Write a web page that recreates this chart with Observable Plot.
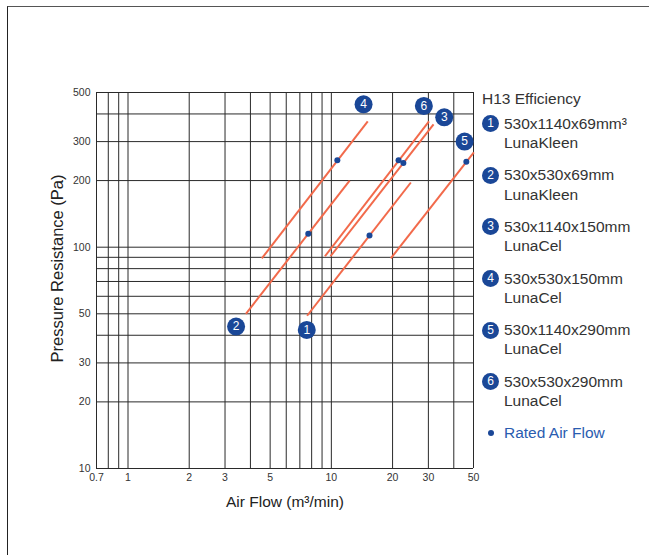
<!DOCTYPE html>
<html>
<head>
<meta charset="utf-8">
<script src="https://cdn.jsdelivr.net/npm/d3@7"></script>
<script src="https://cdn.jsdelivr.net/npm/@observablehq/plot@0.6"></script>
<style>
  body { margin: 0; background: #fff; font-family: "Liberation Sans", Arial, sans-serif; }
  #wrap { position: relative; width: 649px; height: 555px; overflow: hidden; }
  #frame { position: absolute; left: 7px; top: 6px; width: 700px; height: 600px;
           border-left: 1.5px solid #222; border-top: 1.5px solid #555; }
  #chart { position: absolute; left: 0; top: 0; }
  #legend { position: absolute; left: 0; top: 0; width: 649px; height: 555px; pointer-events: none; }
  .lt { position: absolute; white-space: nowrap; font-size: 15.5px; line-height: 20px; height: 20px; color: #333; }
  .badge { position: absolute; width: 17px; height: 17px; border-radius: 50%; background: #1a4797;
           color: #fff; font-size: 12px; line-height: 17px; text-align: center; }
  .rdot { position: absolute; width: 6px; height: 6px; border-radius: 50%; background: #1a4797; }
</style>
</head>
<body>
<div id="wrap">
  <div id="frame"></div>
  <div id="chart"></div>
  <div id="legend"></div>
</div>
<script>
// ---- data ----
const seriesIds = ["1", "2", "3", "4", "5", "6"];
const startFlow     = [7.6, 3.8, 9.9, 4.55, 19.6, 9.3];
const startPressure = [49, 50, 91, 89, 89, 91];
const endFlow       = [24.6, 12.3, 31.8, 15.1, 50.2, 30.2];
const endPressure   = [196, 200, 359, 370, 268, 370];
const ratedFlow     = [15.4, 7.7, 22.6, 10.7, 46.1, 21.4];
const ratedPressure = [113, 115, 240, 247, 243, 247];
const labelFlow     = [7.57, 3.40, 35.9, 14.4, 45.2, 28.5];
const labelPressure = [42.3, 43.8, 386, 442, 300, 435];

const xGridValues = [0.7, 0.8, 0.9, 1, 2, 3, 4, 5, 6, 7, 8, 9, 10, 20, 30, 40, 50];
const yGridValues = [10, 20, 30, 40, 50, 60, 70, 80, 90, 100, 200, 300, 400, 500];
const xTickLabels = [0.7, 1, 2, 3, 5, 10, 20, 30, 50];
const yTickLabels = [10, 20, 30, 50, 100, 200, 300, 500];

const legendTitle = "H13 Efficiency";
const legendSizes = ["530x1140x69mm³", "530x530x69mm", "530x1140x150mm", "530x530x150mm", "530x1140x290mm", "530x530x290mm"];
const legendNames = ["LunaKleen", "LunaKleen", "LunaCel", "LunaCel", "LunaCel", "LunaCel"];
const ratedLabel = "Rated Air Flow";
const xTitle = "Air Flow (m³/min)";
const yTitle = "Pressure Resistance (Pa)";

// ---- tables ----
const segs = seriesIds.map((id, i) => ({id, x1: startFlow[i], y1: startPressure[i], x2: endFlow[i], y2: endPressure[i]}));
const rated = seriesIds.map((id, i) => ({id, x: ratedFlow[i], y: ratedPressure[i]}));
const labels = seriesIds.map((id, i) => ({id, x: labelFlow[i], y: labelPressure[i]}));

const ORANGE = "#f26a4b";
const BLUE = "#1a4797";
const FONT = '"Liberation Sans", Arial, sans-serif';

const chart = Plot.plot({
  width: 649,
  height: 555,
  marginLeft: 96,
  marginRight: 176,
  marginTop: 92,
  marginBottom: 87,
  style: {fontFamily: FONT, fontSize: "10.5px", color: "#333", background: "transparent"},
  x: {type: "log", domain: [0.7, 50], axis: null},
  y: {type: "log", domain: [10, 500], axis: null},
  marks: [
    Plot.ruleX(xGridValues, {stroke: "#2a2a2a", strokeWidth: 1}),
    Plot.ruleY(yGridValues, {stroke: "#2a2a2a", strokeWidth: 1}),
    Plot.text(xTickLabels, {x: d => d, frameAnchor: "bottom", lineAnchor: "top", dy: 5, text: d => String(d), fontSize: 10.5, fill: "#333"}),
    Plot.text(yTickLabels, {y: d => d, frameAnchor: "left", textAnchor: "end", lineAnchor: "middle", dx: -6, text: d => String(d), fontSize: 10.5, fill: "#333"}),
    Plot.link(segs, {x1: "x1", y1: "y1", x2: "x2", y2: "y2", stroke: ORANGE, strokeWidth: 2}),
    Plot.dot(rated, {x: "x", y: "y", r: 3, fill: BLUE, stroke: null}),
    Plot.dot(labels, {x: "x", y: "y", r: 9, fill: BLUE, stroke: null}),
    Plot.text(labels, {x: "x", y: "y", text: "id", fill: "white", fontSize: 12}),
    Plot.text([xTitle], {frameAnchor: "bottom", textAnchor: "middle", lineAnchor: "middle", dy: 34, fontSize: 15.5, fill: "#222"}),
    Plot.text([yTitle], {frameAnchor: "left", textAnchor: "middle", lineAnchor: "middle", rotate: -90, dx: -39, dy: -12, fontSize: 16.5, fill: "#222"})
  ]
});
document.getElementById("chart").appendChild(chart);

// ---- legend (HTML) ----
const leg = document.getElementById("legend");
function addText(txt, left, cy, color) {
  const d = document.createElement("div");
  d.className = "lt";
  d.style.left = left + "px";
  d.style.top = (cy - 10) + "px";
  if (color) d.style.color = color;
  d.textContent = txt;
  leg.appendChild(d);
}
addText(legendTitle, 482, 98.5);
seriesIds.forEach((id, i) => {
  const cy = 123.7 + i * 51.6;
  const b = document.createElement("div");
  b.className = "badge";
  b.style.left = (490.7 - 8.5) + "px";
  b.style.top = (cy - 8.5) + "px";
  b.textContent = id;
  leg.appendChild(b);
  addText(legendSizes[i], 504, cy);
  addText(legendNames[i], 504, cy + 19.3);
});
const rd = document.createElement("div");
rd.className = "rdot";
rd.style.left = (491.3 - 3) + "px";
rd.style.top = (433.3 - 3) + "px";
leg.appendChild(rd);
addText(ratedLabel, 504, 433.3, "#2a5cb0");
</script>
</body>
</html>
